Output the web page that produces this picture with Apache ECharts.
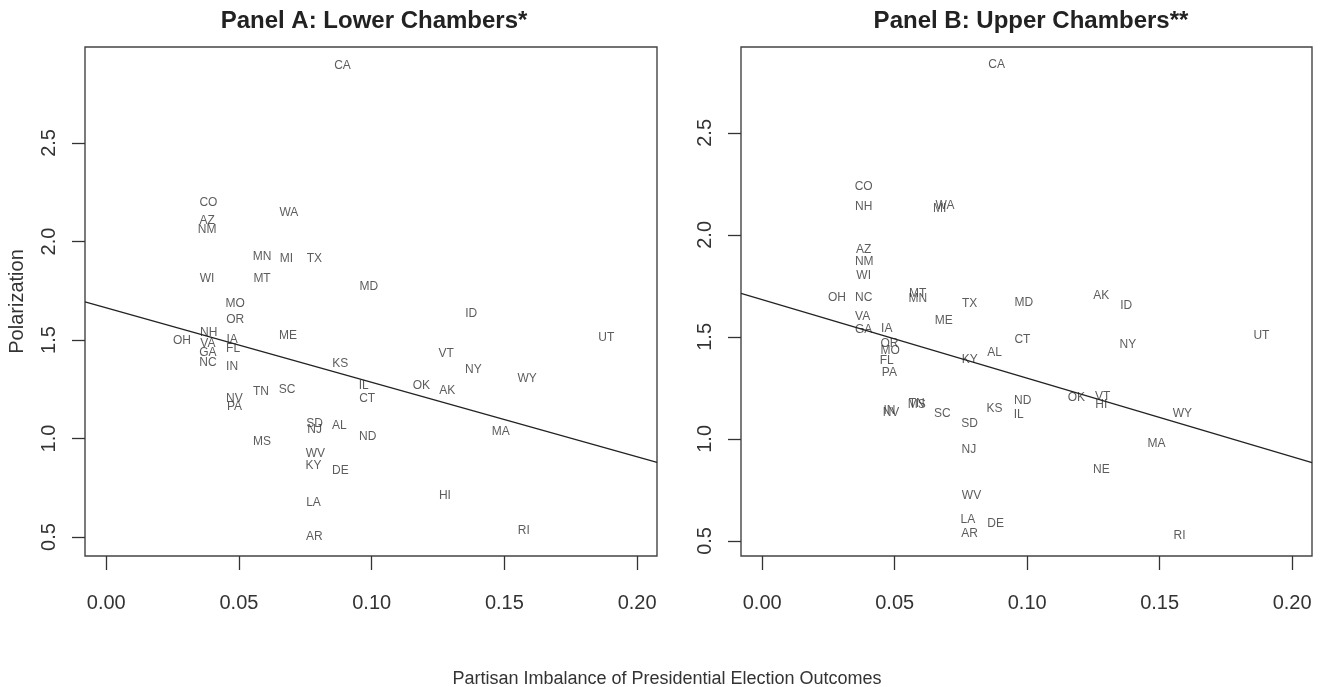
<!DOCTYPE html>
<html>
<head>
<meta charset="utf-8">
<script src="https://cdn.jsdelivr.net/npm/echarts@6/dist/echarts.min.js"></script>
<style>
html,body{margin:0;padding:0;background:#fff;}
#chart{width:1325px;height:687px;}
</style>
</head>
<body>
<div id="chart"></div>
<script>
// ---- Data ----
var statesA = ['CA','CO','AZ','NM','WA','MN','MI','TX','WI','MT','MD','MO','OR','ID','NH','OH','VA','GA','IA','FL','NC','IN','ME','KS','UT','VT','NY','WY','OK','AK','IL','CT','TN','SC','NV','PA','SD','NJ','AL','MA','ND','MS','WV','KY','DE','LA','HI','RI','AR'];
var xA = [0.089,0.0385,0.0380,0.0380,0.0688,0.0587,0.0679,0.0784,0.0380,0.0587,0.0989,0.0486,0.0486,0.1375,0.0386,0.0285,0.0383,0.0383,0.0474,0.0478,0.0383,0.0474,0.0685,0.0882,0.1884,0.1281,0.1383,0.1586,0.1187,0.1285,0.0970,0.0983,0.0583,0.0681,0.0483,0.0483,0.0785,0.0785,0.0878,0.1486,0.0985,0.0587,0.0788,0.0781,0.0882,0.0781,0.1276,0.1573,0.0784];
var yA = [2.890,2.195,2.106,2.062,2.146,1.924,1.911,1.911,1.812,1.812,1.769,1.685,1.604,1.633,1.537,1.495,1.479,1.435,1.503,1.454,1.386,1.365,1.523,1.378,1.511,1.430,1.348,1.305,1.266,1.241,1.266,1.204,1.237,1.249,1.203,1.160,1.076,1.047,1.063,1.034,1.007,0.985,0.924,0.860,0.838,0.676,0.709,0.534,0.503];

var statesB = ['CA','CO','NH','WA','MI','AZ','NM','WI','OH','NC','MT','MN','TX','MD','AK','ID','ME','VA','GA','IA','OR','MO','FL','PA','KY','AL','CT','NY','UT','OK','VT','HI','ND','IL','KS','WY','MA','NE','RI','SC','SD','NJ','WV','LA','AR','DE','NV','IN','TN','MS'];
var xB = [0.0885,0.0383,0.0383,0.0690,0.0670,0.0383,0.0385,0.0383,0.0282,0.0383,0.0587,0.0587,0.0783,0.0987,0.1280,0.1374,0.0685,0.0379,0.0383,0.0470,0.0480,0.0483,0.0470,0.0480,0.0783,0.0877,0.0982,0.1380,0.1884,0.1186,0.1285,0.1280,0.0983,0.0968,0.0877,0.1586,0.1488,0.1280,0.1575,0.0680,0.0783,0.0780,0.0790,0.0776,0.0783,0.0881,0.0486,0.0480,0.0583,0.0583];
var yB = [2.833,2.234,2.140,2.145,2.126,1.929,1.870,1.800,1.694,1.694,1.713,1.689,1.664,1.666,1.703,1.651,1.577,1.600,1.536,1.541,1.468,1.433,1.384,1.327,1.389,1.423,1.487,1.463,1.507,1.202,1.207,1.168,1.188,1.119,1.148,1.124,0.976,0.849,0.5245,1.124,1.076,0.947,0.721,0.603,0.534,0.585,1.130,1.140,1.173,1.170];

// fitted regression lines (intercept, slope)
var fitA = [1.663, -3.78];
var fitB = [1.683, -3.85];

var xTicks = [0, 0.05, 0.10, 0.15, 0.20];
var yTicks = [0.5, 1.0, 1.5, 2.0, 2.5];

var xMin = -0.008, xMax = 0.2075;
var yRangeA = [0.404, 2.987];
var yRangeB = [0.426, 2.921];

// ---- Chart ----
var FONT = 'Liberation Sans, Arial, Helvetica, sans-serif';
var axisColor = '#333';

function makeX(idx){
  return {
    gridIndex: idx, type:'value', min:xMin, max:xMax,
    axisLine:{show:false, onZero:false},
    splitLine:{show:false},
    axisTick:{show:true, inside:false, length:14, customValues:xTicks, lineStyle:{color:axisColor, width:1.3}},
    axisLabel:{show:true, customValues:xTicks, margin:37, fontSize:20, color:'#333', fontFamily:FONT,
      formatter:function(v){return v.toFixed(2);}}
  };
}
function makeY(idx, range, name){
  return {
    gridIndex: idx, type:'value', min:range[0], max:range[1],
    name: name || '', nameLocation:'middle', nameGap:58, nameRotate:90,
    nameTextStyle:{fontSize:20, color:'#333', fontFamily:FONT},
    axisLine:{show:false, onZero:false},
    splitLine:{show:false},
    axisTick:{show:true, inside:false, length:13, customValues:yTicks, lineStyle:{color:axisColor, width:1.3}},
    axisLabel:{show:true, customValues:yTicks, rotate:90, margin:26, fontSize:20, color:'#333', fontFamily:FONT,
      formatter:function(v){return v.toFixed(1);}}
  };
}
function pts(states, xs, ys){
  return states.map(function(s,i){return {name:s, value:[xs[i], ys[i]]};});
}
function labelSeries(idx, states, xs, ys){
  return {
    type:'scatter', xAxisIndex:idx, yAxisIndex:idx,
    data: pts(states, xs, ys),
    symbol:'circle', symbolSize:1,
    itemStyle:{color:'rgba(0,0,0,0)'},
    silent:true, animation:false,
    label:{show:true, position:'inside', formatter:'{b}', fontSize:12, color:'#333', fontFamily:FONT}
  };
}
function fitSeries(idx, fit){
  return {
    type:'line', xAxisIndex:idx, yAxisIndex:idx,
    data:[[xMin, fit[0]+fit[1]*xMin],[xMax, fit[0]+fit[1]*xMax]],
    symbol:'none', silent:true, animation:false,
    lineStyle:{color:'#222', width:1.3}
  };
}

var chart = echarts.init(document.getElementById('chart'));
chart.setOption({
  animation:false,
  backgroundColor:'#fff',
  grid:[
    {left:85, top:47, width:572, height:509, show:true, borderColor:'#444', borderWidth:1.4, backgroundColor:'rgba(0,0,0,0)'},
    {left:741, top:47, width:571, height:509, show:true, borderColor:'#444', borderWidth:1.4, backgroundColor:'rgba(0,0,0,0)'}
  ],
  xAxis:[makeX(0), makeX(1)],
  yAxis:[makeY(0, yRangeA, 'Polarization'), makeY(1, yRangeB, '')],
  title:[
    {text:'Panel A: Lower Chambers*', left:369, top:4, textAlign:'center', textStyle:{fontSize:24, fontWeight:'bold', color:'#222', fontFamily:FONT}},
    {text:'Panel B: Upper Chambers**', left:1026, top:4, textAlign:'center', textStyle:{fontSize:24, fontWeight:'bold', color:'#222', fontFamily:FONT}},
    {text:'Partisan Imbalance of Presidential Election Outcomes', left:662, top:665, textAlign:'center', textStyle:{fontSize:18, fontWeight:'normal', color:'#333', fontFamily:FONT}}
  ],
  series:[
    labelSeries(0, statesA, xA, yA),
    fitSeries(0, fitA),
    labelSeries(1, statesB, xB, yB),
    fitSeries(1, fitB)
  ]
});
</script>
</body>
</html>
